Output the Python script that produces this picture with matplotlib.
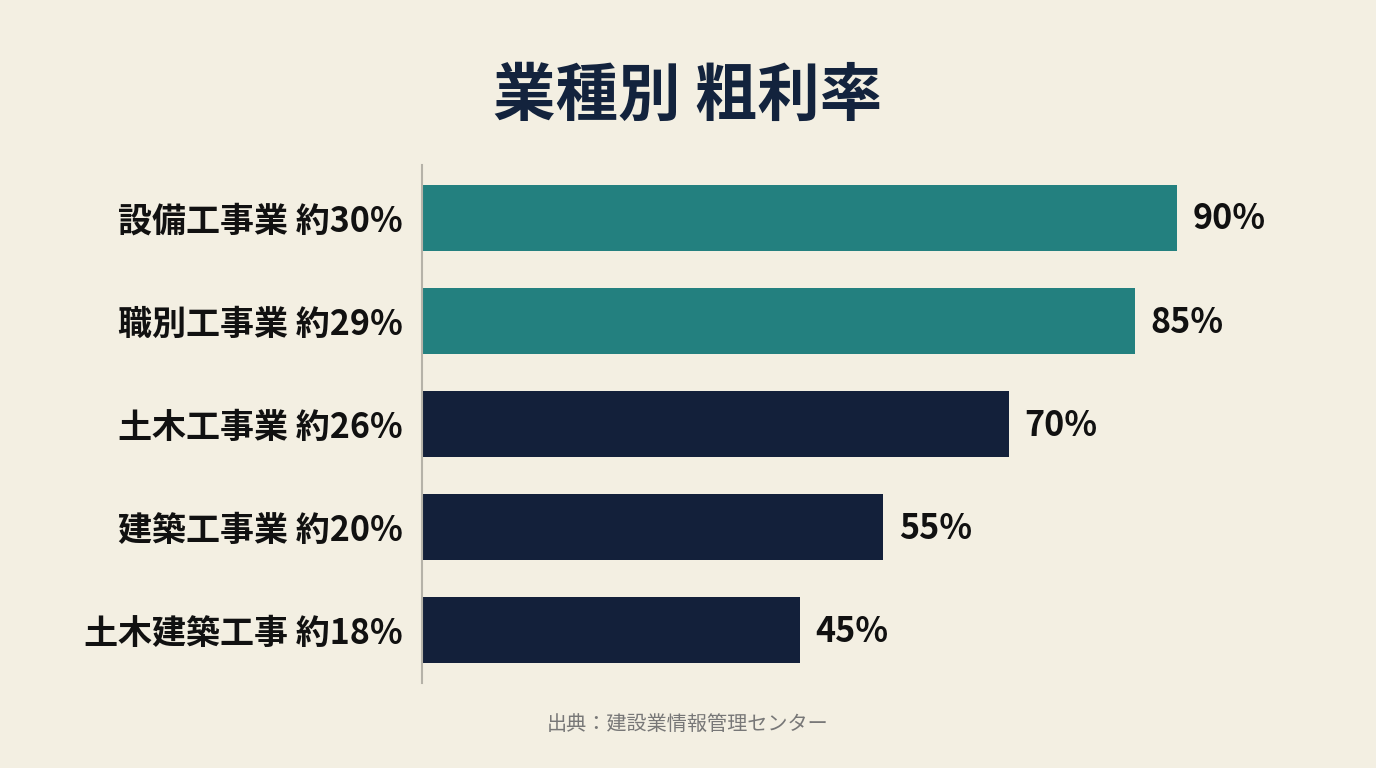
import matplotlib.pyplot as plt

plt.rcParams['font.family'] = ['Noto Sans CJK JP', 'DejaVu Sans']

categories = ['設備工事業 約30%', '職別工事業 約29%', '土木工事業 約26%', '建築工事業 約20%', '土木建築工事 約18%']
values = [90, 85, 70, 55, 45]
value_labels = ['90%', '85%', '70%', '55%', '45%']
colors = ['#23807f', '#23807f', '#13203a', '#13203a', '#13203a']

bg = '#f3efe2'
fig = plt.figure(figsize=(13.76, 7.68), dpi=100, facecolor=bg)
ax = fig.add_axes([0.3067, 0.1107, 0.6097, 0.6745])
ax.set_facecolor(bg)

ypos = range(len(categories))
bars = ax.barh(ypos, values, height=0.64, color=colors)
ax.set_xlim(0, 100)
ax.set_ylim(4.51, -0.51)

for rect, lab in zip(bars, value_labels):
    ax.annotate(lab, xy=(rect.get_width(), rect.get_y() + rect.get_height() / 2),
                xytext=(11, -1), textcoords='offset points',
                ha='left', va='center', fontsize=24.5, fontweight='bold', color='#111111')

ax.set_yticks(list(ypos))
ax.set_yticklabels(categories, fontsize=24.5, fontweight='bold', color='#111111')
ax.tick_params(axis='y', length=0, pad=14)
ax.set_xticks([])
for s in ['top', 'right', 'bottom']:
    ax.spines[s].set_visible(False)
ax.spines['left'].set_color('#b5b2a8')
ax.spines['left'].set_linewidth(1.5)

fig.text(0.5, 0.875, '業種別 粗利率', ha='center', va='center',
         fontsize=45, fontweight='bold', color='#13233d')
fig.text(0.5, 0.057, '出典：建設業情報管理センター', ha='center', va='center',
         fontsize=14.5, color='#777777')

fig.savefig('out.png', dpi=100, facecolor=bg)
